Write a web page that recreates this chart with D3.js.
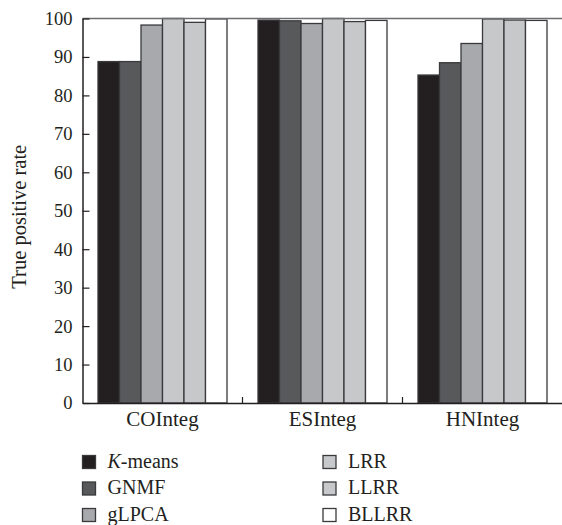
<!DOCTYPE html>
<html>
<head>
<meta charset="utf-8">
<script src="https://cdn.jsdelivr.net/npm/d3@7"></script>
<style>
  html, body { margin: 0; padding: 0; background: #fff; }
  svg { display: block; font-family: "Liberation Serif", "Times New Roman", serif; }
</style>
</head>
<body>
<svg id="chart" width="562" height="525"></svg>
<script>
const groups = ["COInteg", "ESInteg", "HNInteg"];
const series = ["K-means", "GNMF", "gLPCA", "LRR", "LLRR", "BLLRR"];
const kmeans = [88.8, 99.6, 85.3];
const gnmf   = [88.8, 99.4, 88.5];
const glpca  = [98.3, 98.7, 93.5];
const lrr    = [100.0, 100.0, 99.9];
const llrr   = [99.0, 99.2, 99.6];
const bllrr  = [99.9, 99.5, 99.5];
const yTicks = [0, 10, 20, 30, 40, 50, 60, 70, 80, 90, 100];
const colors = ["#231f20", "#58595b", "#a7a9ac", "#c7c8ca", "#c7c8ca", "#ffffff"];

const values = [kmeans, gnmf, glpca, lrr, llrr, bllrr];
const data = groups.map((g, gi) => ({
  group: g,
  bars: series.map((s, si) => ({ series: s, value: values[si][gi], color: colors[si] }))
}));

const svg = d3.select("#chart");
const mLeft = 82.5, mRight = 562.5, mTop = 18.5, mBottom = 403;

const x0 = d3.scaleBand().domain(groups).range([mLeft, mRight]).paddingInner(0).paddingOuter(0);
const x1 = d3.scaleBand().domain(series).range([15.5, x0.bandwidth() - 15.5]).padding(0);
const y = d3.scaleLinear().domain([0, 100]).range([mBottom, mTop]);

// bars
const gBars = svg.append("g");
gBars.selectAll("g.grp").data(data).join("g")
  .attr("class", "grp")
  .attr("transform", d => `translate(${x0(d.group)},0)`)
  .selectAll("rect").data(d => d.bars).join("rect")
  .attr("x", d => x1(d.series))
  .attr("y", d => y(d.value))
  .attr("width", x1.bandwidth())
  .attr("height", d => y(0) - y(d.value))
  .attr("fill", d => d.color)
  .attr("stroke", "#3a3a3c")
  .attr("stroke-width", 1.3);

// top frame line
svg.append("line")
  .attr("x1", mLeft).attr("x2", mRight)
  .attr("y1", y(100)).attr("y2", y(100))
  .attr("stroke", "#6d6e71").attr("stroke-width", 1.3);

// y axis
const yAxis = d3.axisLeft(y).tickValues(yTicks).tickSizeInner(-7).tickSizeOuter(0).tickPadding(10);
const ya = svg.append("g").attr("transform", `translate(${mLeft},0)`).call(yAxis);
ya.select(".domain").attr("stroke", "#231f20").attr("stroke-width", 1.5);
ya.selectAll(".tick line").attr("stroke", "#231f20").attr("stroke-width", 1.2);
ya.selectAll(".tick text").attr("font-size", 18.5).attr("fill", "#231f20")
  .attr("font-family", "'Liberation Serif', serif");

// x axis
const xAxis = d3.axisBottom(x0).tickSize(0).tickPadding(8.5);
const xa = svg.append("g").attr("transform", `translate(0,${mBottom})`).call(xAxis);
xa.select(".domain").attr("stroke", "#231f20").attr("stroke-width", 1.5);
xa.selectAll(".tick text").attr("font-size", 21).attr("fill", "#231f20")
  .attr("font-family", "'Liberation Serif', serif");
// band boundary ticks (inward)
xa.selectAll("line.bnd").data(groups.slice(1)).join("line")
  .attr("class", "bnd")
  .attr("x1", d => x0(d)).attr("x2", d => x0(d))
  .attr("y1", 0).attr("y2", -6)
  .attr("stroke", "#231f20").attr("stroke-width", 1.2);

// y title
svg.append("text")
  .attr("transform", `translate(26,${(mTop + mBottom) / 2 + 6}) rotate(-90)`)
  .attr("text-anchor", "middle")
  .attr("font-size", 20.5)
  .attr("fill", "#231f20")
  .text("True positive rate");

// legend
const leg = svg.append("g");
const items = leg.selectAll("g").data(series).join("g")
  .attr("transform", (d, i) => {
    const col = Math.floor(i / 3), row = i % 3;
    return `translate(${col === 0 ? 82.5 : 323}, ${455.5 + row * 26.5})`;
  });
items.append("rect")
  .attr("width", 13).attr("height", 13)
  .attr("fill", (d, i) => colors[i])
  .attr("stroke", "#3a3a3c").attr("stroke-width", 1.3);
const lt = items.append("text")
  .attr("x", 25).attr("y", 12)
  .attr("font-size", 20)
  .attr("fill", "#231f20");
lt.each(function(d) {
  const t = d3.select(this);
  if (d === "K-means") {
    t.append("tspan").attr("font-style", "italic").text("K");
    t.append("tspan").text("-means");
  } else {
    t.text(d);
  }
});
</script>
</body>
</html>
